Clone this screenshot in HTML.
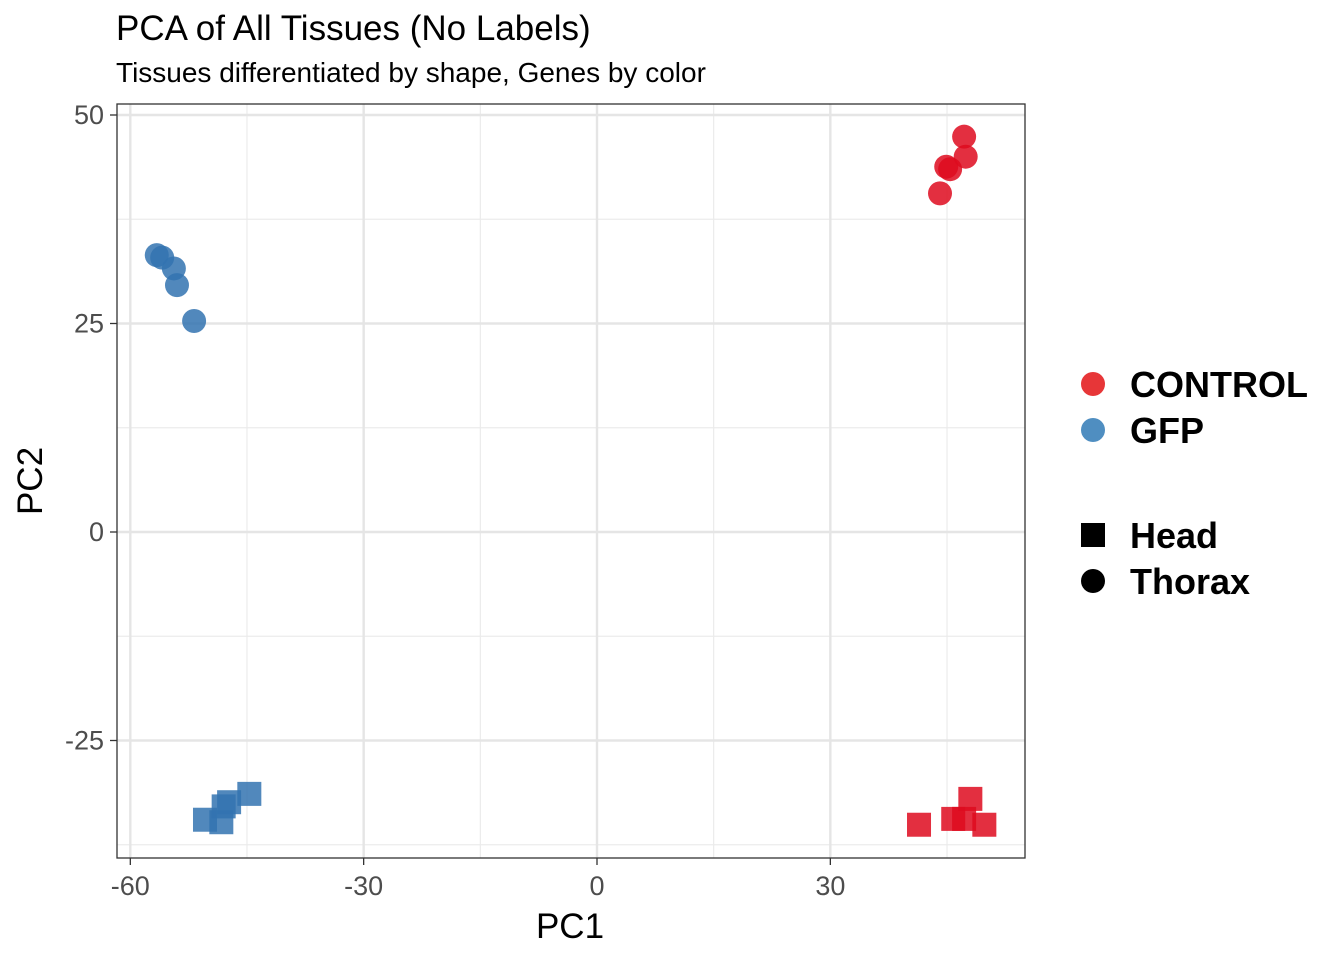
<!DOCTYPE html>
<html><head><meta charset="utf-8"><style>
body{margin:0;background:#fff;}
svg text{font-family:"Liberation Sans",Arial,sans-serif;}
</style></head><body>
<svg id="chart" width="1344" height="960" xmlns="http://www.w3.org/2000/svg">
<text x="116" y="40" font-size="35" fill="#000">PCA of All Tissues (No Labels)</text>
<text x="116" y="82" font-size="28" fill="#000">Tissues differentiated by shape, Genes by color</text>
<g id="grid"></g>
<g id="points"></g>
<rect x="117" y="104" width="908" height="754" fill="none" stroke="#333" stroke-width="1.3"/>
<g id="axes"></g>
<text x="570" y="938" font-size="35" text-anchor="middle">PC1</text>
<text transform="translate(42,481) rotate(-90)" font-size="35" text-anchor="middle">PC2</text>
<g>
<circle cx="1093" cy="384" r="12" fill="#E41A1C" fill-opacity="0.88"/>
<text x="1130" y="397" font-size="36" font-weight="bold">CONTROL</text>
<circle cx="1093" cy="430" r="12" fill="#377EB8" fill-opacity="0.88"/>
<text x="1130" y="443" font-size="36" font-weight="bold">GFP</text>
</g>
<g>
<rect x="1081" y="523" width="24" height="24" fill="#000"/>
<text x="1130" y="548" font-size="36" font-weight="bold">Head</text>
<circle cx="1093" cy="581" r="12" fill="#000"/>
<text x="1130" y="594" font-size="36" font-weight="bold">Thorax</text>
</g>
</svg>
<script>
const xTicks=[-60,-30,0,30];
const yTicks=[50,25,0,-25];
const xMinor=[-45,-15,15,45];
const yMinor=[37.5,12.5,-12.5,-37.5];
const gfpThoraxX=[-56.6,-55.9,-54.4,-54.0,-51.8];
const gfpThoraxY=[33.2,32.9,31.6,29.6,25.3];
const gfpHeadX=[-50.4,-48.3,-48.0,-47.3,-44.7];
const gfpHeadY=[-34.5,-34.8,-32.9,-32.4,-31.4];
const ctlHeadX=[41.4,45.8,47.2,48.0,49.8];
const ctlHeadY=[-35.1,-34.4,-34.4,-32.0,-35.1];
const ctlThoraxX=[47.2,47.4,45.4,44.9,44.1];
const ctlThoraxY=[47.4,45.0,43.5,43.8,40.6];
const NS='http://www.w3.org/2000/svg';
const sx=v=>597+v*7.778;
const sy=v=>532-v*8.34;
function mk(t,a,p){const e=document.createElementNS(NS,t);for(const k in a)e.setAttribute(k,a[k]);p.appendChild(e);return e;}
const grid=document.getElementById('grid'),axes=document.getElementById('axes'),pts=document.getElementById('points');
mk('rect',{x:117,y:104,width:908,height:754,fill:'#fff'},grid);
xMinor.forEach(v=>{const l=mk('line',{x1:sx(v),x2:sx(v),y1:104,y2:858,stroke:'#ebebeb','stroke-width':1.2},grid);

});
yMinor.forEach(v=>{const l=mk('line',{x1:117,x2:1025,y1:sy(v),y2:sy(v),stroke:'#ebebeb','stroke-width':1.2},grid);

});
xTicks.forEach(v=>{const l=mk('line',{x1:sx(v),x2:sx(v),y1:104,y2:858,stroke:'#e5e5e5','stroke-width':2.4},grid);


mk('line',{x1:sx(v),x2:sx(v),y1:858,y2:865,stroke:'#333','stroke-width':1.3},axes);
const t=mk('text',{x:sx(v),y:895,'font-size':27,'text-anchor':'middle',fill:'#4d4d4d'},axes);t.textContent=v;

});
yTicks.forEach(v=>{const l=mk('line',{x1:117,x2:1025,y1:sy(v),y2:sy(v),stroke:'#e5e5e5','stroke-width':2.4},grid);


mk('line',{x1:110,x2:117,y1:sy(v),y2:sy(v),stroke:'#333','stroke-width':1.3},axes);
const t=mk('text',{x:104,y:sy(v)+9,'font-size':27,'text-anchor':'end',fill:'#4d4d4d'},axes);t.textContent=v;

});
function circles(X,Y,c,name){X.forEach((x,i)=>{const e=mk('circle',{cx:sx(x),cy:sy(Y[i]),r:12,fill:c,'fill-opacity':0.85},pts);

});}
function squares(X,Y,c,name){X.forEach((x,i)=>{const e=mk('rect',{x:sx(x)-12,y:sy(Y[i])-12,width:24,height:24,fill:c,'fill-opacity':0.85},pts);

});}
circles(gfpThoraxX,gfpThoraxY,'#3273B0','gfp-thorax-point');
squares(gfpHeadX,gfpHeadY,'#3273B0','gfp-head-point');
squares(ctlHeadX,ctlHeadY,'#DE0A1E','control-head-point');
circles(ctlThoraxX,ctlThoraxY,'#DE0A1E','control-thorax-point');
</script>
</body></html>
